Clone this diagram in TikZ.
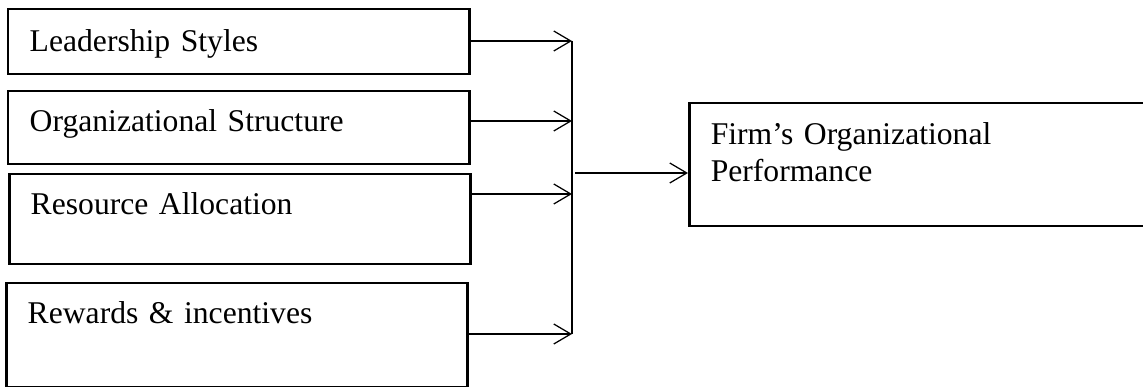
\documentclass[tikz,border=0pt]{standalone}
\usepackage{fontspec}
\setmainfont{Liberation Serif}
\usetikzlibrary{arrows.meta}

\begin{document}
\begin{tikzpicture}[
  factor/.style={draw, line width=0.5mm, rectangle, anchor=north west, inner xsep=0.43cm, inner ysep=0pt, align=left, font=\fontsize{18pt}{21pt}\selectfont},
  link/.style={line width=0.25mm, -{Straight Barb[length=0.34cm,width=0.4cm]}}
]

\useasboundingbox (0,0) rectangle (22.86,7.74);
\clip (0,0) rectangle (22.86,7.74);

\node[factor, text width=8.36cm, text height=0.84cm, text depth=0.46cm] (lead) at (0.14,7.58) {Leadership Styles};
\node[factor, text width=8.36cm, text height=0.80cm, text depth=0.66cm] (struct) at (0.14,5.94) {Organizational Structure};
\node[factor, text width=8.36cm, text height=0.80cm, text depth=1.00cm] (alloc) at (0.16,4.28) {Resource Allocation};
\node[factor, text width=8.36cm, text height=0.80cm, text depth=1.28cm] (reward) at (0.10,2.10) {Rewards \& incentives};

\node[factor, text width=8.38cm, text height=0.82cm, text depth=1.64cm] (perf) at (13.76,5.70) {Firm’s Organizational\\Performance};

\coordinate (j1) at (11.44,6.92);
\coordinate (j2) at (11.44,5.32);
\coordinate (j3) at (11.44,3.86);
\coordinate (j4) at (11.44,1.06);
\coordinate (m) at (11.50,4.28);

\draw[link] (lead.east |- j1) -- (j1);
\draw[link] (struct.east |- j2) -- (j2);
\draw[link] (alloc.east |- j3) -- (j3);
\draw[link] (reward.east |- j4) -- (j4);

\draw[line width=0.45mm] (j1) -- (j4);
\draw[link] (m) -- (m -| perf.west);

\end{tikzpicture}
\end{document}
